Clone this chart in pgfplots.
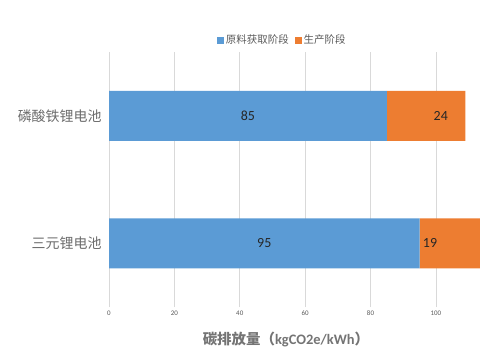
\documentclass[border=0pt]{standalone}
\usepackage{pgfplots}
\pgfplotsset{compat=1.18}
\usepackage{fontspec}
\setmainfont{Carlito}
\newfontfamily\cjk{Noto Sans CJK SC}
\definecolor{cblue}{HTML}{5B9BD5}
\definecolor{corange}{HTML}{ED7D31}
\definecolor{cgrid}{HTML}{D9D9D9}
\definecolor{ctext}{HTML}{595959}
\begin{document}
\begin{tikzpicture}[x=1bp,y=1bp]
\useasboundingbox (0,0) rectangle (480,360);
\begin{scope}
\clip (0,0) rectangle (480,360);
\begin{axis}[
  at={(109bp,53bp)}, anchor=south west,
  scale only axis, width=371bp, height=255bp,
  xbar stacked, bar width=50bp,
  xmin=0, xmax=113.5, ymin=-0.5, ymax=1.5,
  ytick={0,1}, yticklabels={三元锂电池,磷酸铁锂电池},
  yticklabel style={font=\cjk\fontsize{14}{16}\selectfont, text=ctext!120!black, xshift=-4bp},
  xtick={0,20,40,60,80,100},
  xticklabel style={font=\fontsize{7}{8}\selectfont, text=ctext},
  /pgf/number format/assume math mode=true,
  axis line style={draw=none}, major tick length=0pt,
  xmajorgrids, grid style={cgrid, line width=0.6bp},
  xlabel={\cjk\bfseries 碳排放量（\fontspec{Carlito}\bfseries kgCO2e/kWh\cjk）},
  xlabel style={font=\fontsize{14.5}{16}\selectfont, text=ctext!130!black, at={(axis description cs:0.477,0)}, anchor=north, yshift=-22bp},
  legend columns=2,
  legend style={draw=none, fill=none, at={(axis description cs:0.467,1.047)}, anchor=center,
    font=\cjk\fontsize{10.5}{12}\selectfont, text=ctext,
    /tikz/every even column/.append style={column sep=4bp}},
  legend image code/.code={\fill[#1] (0bp,-3.5bp) rectangle (7bp,3.5bp);},
  clip=true,
]
\addplot[fill=cblue, draw=none] coordinates {(95,0) (85,1)};
\addplot[fill=corange, draw=none] coordinates {(19,0) (24,1)};
\legend{原料获取阶段,生产阶段}
\coordinate (la) at (axis cs:42.5,1);
\coordinate (lb) at (axis cs:47.5,0);
\coordinate (lc) at (axis cs:101.5,1);
\coordinate (ld) at (axis cs:98.2,0);
\end{axis}
\end{scope}
\foreach \p/\t in {la/85,lb/95,lc/24,ld/19}
  \node[font=\fontsize{14}{16}\selectfont, text=black!85] at (\p) {\t};
\end{tikzpicture}
\end{document}
